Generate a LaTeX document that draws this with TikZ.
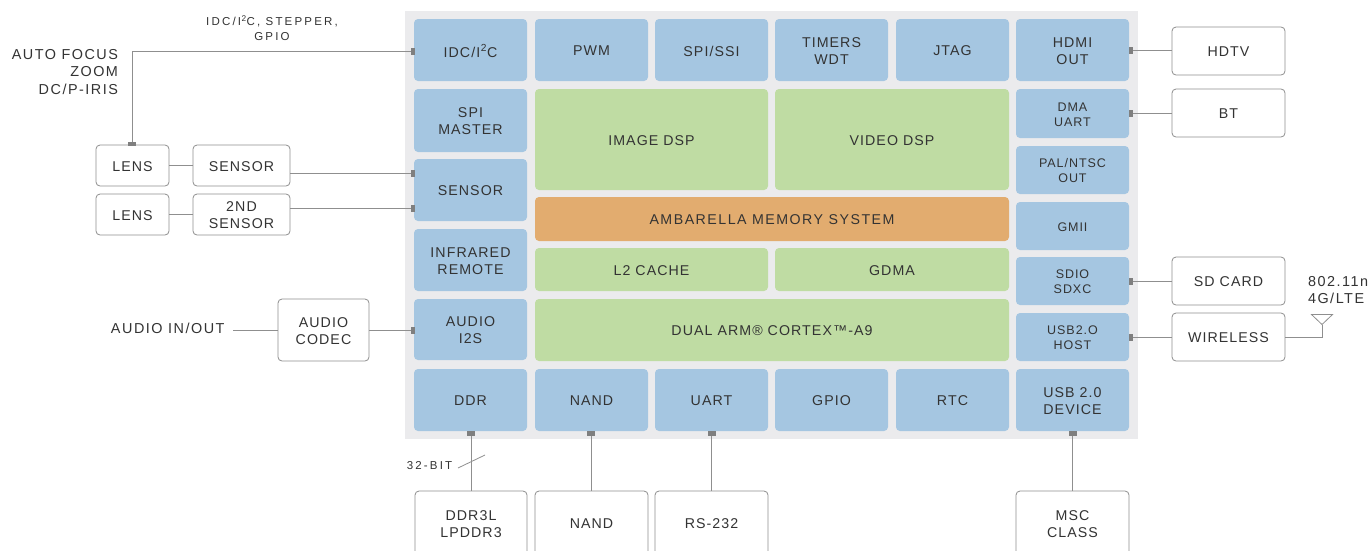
\documentclass[tikz,border=0pt]{standalone}
\usepackage{fontspec}
\setmainfont{Liberation Sans}[LetterSpace=7.5]
\newfontfamily\widefont{Liberation Sans}[LetterSpace=10.5]
\newfontfamily\widerfont{Liberation Sans}[LetterSpace=19]
\definecolor{txt}{HTML}{333333}
\definecolor{bgg}{HTML}{EBEBED}
\definecolor{blu}{HTML}{A5C6E1}
\definecolor{grn}{HTML}{BFDCA3}
\definecolor{org}{HTML}{E2AC6F}
\definecolor{lin}{HTML}{8F8F8F}
\definecolor{prt}{HTML}{7F7F7F}
\newcommand\smf{\fontsize{12.5}{15}\selectfont}
\newcommand\suptwo{\kern0.04em\raisebox{0.38em}{\scalebox{0.72}{2}}\kern0.04em}
\newcommand\bx[7]{%
  \pgfmathsetmacro\bw{#4-#2}\pgfmathsetmacro\bh{#5-#3}%
  \pgfmathsetmacro\cx{(#2+#4)/2}\pgfmathsetmacro\cy{(#3+#5)/2}%
  \node[#6,minimum width=\bw pt,minimum height=\bh pt] (#1) at (\cx,\cy) {};
  \node[yshift=-1pt] (#1t) at (#1.center) {#7};}
\begin{document}
\begin{tikzpicture}[x=1pt,y=-1pt,
  every node/.style={font=\fontsize{14.2}{17.2}\selectfont,text=txt,align=center,inner sep=0pt,outer sep=0pt},
  blk/.style={rectangle,rounded corners=4pt},
  bluebox/.style={blk,fill=blu},
  greenbox/.style={blk,fill=grn},
  orangebox/.style={blk,fill=org},
  whitebox/.style={blk,draw=lin,line width=0.8pt,fill=white},
  port/.style={rectangle,fill=prt,minimum width=4pt,minimum height=7pt},
  portv/.style={rectangle,fill=prt,minimum width=8pt,minimum height=4.5pt},
  wire/.style={draw=lin,line width=1pt},
  small/.style={font=\widerfont\fontsize{11.5}{14.2}\selectfont},
  label/.style={font=\widefont\fontsize{14.4}{17.6}\selectfont}]
\clip (0,0) rectangle (1371,550);
\fill[white] (0,0) rectangle (1371,550);
\bx{chip}{405}{11}{1138}{439}{rectangle,fill=bgg}{}
% left column
\bx{idc}{414}{19}{527}{81}{bluebox}{IDC/I\suptwo C}
\bx{spi}{414}{89}{527}{152}{bluebox}{SPI\\MASTER}
\bx{sens}{414}{159}{527}{221}{bluebox}{SENSOR}
\bx{ir}{414}{229}{527}{291}{bluebox}{INFRARED\\REMOTE}
\bx{aud}{414}{299}{527}{360}{bluebox}{AUDIO\\I2S}
\bx{ddr}{414}{369}{527}{431}{bluebox}{DDR}
% top row
\bx{pwm}{535}{19}{648}{81}{bluebox}{PWM}
\bx{ssi}{655}{19}{768}{81}{bluebox}{SPI/SSI}
\bx{tim}{775}{19}{888}{81}{bluebox}{TIMERS\\WDT}
\bx{jtag}{896}{19}{1009}{81}{bluebox}{JTAG}
% centre
\bx{img}{535}{89}{768}{190}{greenbox}{IMAGE DSP}
\bx{vid}{775}{89}{1009}{190}{greenbox}{VIDEO DSP}
\bx{mem}{535}{197}{1009}{241}{orangebox}{\widefont AMBARELLA MEMORY SYSTEM}
\bx{ltwo}{535}{248}{768}{291}{greenbox}{L2 CACHE}
\bx{gdma}{775}{248}{1009}{291}{greenbox}{GDMA}
\bx{arm}{535}{299}{1009}{361}{greenbox}{DUAL ARM® CORTEX™-A9}
% bottom row
\bx{nandi}{535}{369}{648}{431}{bluebox}{NAND}
\bx{uart}{655}{369}{768}{431}{bluebox}{UART}
\bx{gpio}{775}{369}{888}{431}{bluebox}{GPIO}
\bx{rtc}{896}{369}{1009}{431}{bluebox}{RTC}
% right column
\bx{hdmi}{1016}{19}{1129}{81}{bluebox}{HDMI\\OUT}
\bx{dma}{1016}{89}{1129}{138}{bluebox}{\smf DMA\\[-2.2pt]\smf UART}
\bx{pal}{1016}{146}{1129}{194}{bluebox}{\smf PAL/NTSC\\[-2.2pt]\smf OUT}
\bx{gmii}{1016}{202}{1129}{250}{bluebox}{\smf GMII}
\bx{sdio}{1016}{257}{1129}{305}{bluebox}{\smf SDIO\\[-2.2pt]\smf SDXC}
\bx{host}{1016}{313}{1129}{361}{bluebox}{\smf USB2.O\\[-2.2pt]\smf HOST}
\bx{dev}{1016}{369}{1129}{431}{bluebox}{USB 2.0\\DEVICE}
% external boxes
\bx{hdtv}{1172}{27}{1285}{75}{whitebox}{HDTV}
\bx{bt}{1172}{89}{1285}{137}{whitebox}{BT}
\bx{sd}{1172}{257}{1285}{305}{whitebox}{SD CARD}
\bx{wl}{1172}{313}{1285}{361}{whitebox}{WIRELESS}
\bx{lensa}{96}{145}{169}{186}{whitebox}{LENS}
\bx{sensa}{193}{145}{290}{186}{whitebox}{SENSOR}
\bx{lensb}{96}{194}{169}{235}{whitebox}{LENS}
\bx{sensb}{193}{194}{290}{235}{whitebox}{2ND\\SENSOR}
\bx{codec}{278}{299}{369}{361}{whitebox}{AUDIO\\CODEC}
\bx{ddrx}{415}{491}{527}{556}{whitebox}{}
\bx{nandx}{535}{491}{648}{556}{whitebox}{}
\bx{rsx}{655}{491}{768}{556}{whitebox}{}
\bx{mscx}{1016}{491}{1129}{556}{whitebox}{}
\node (tddr) at (471,524) {DDR3L\\LPDDR3};
\node (tnand) at (591.5,524) {NAND};
\node (trs) at (711.5,524) {RS-232};
\node (tmsc) at (1072.5,524) {MSC\\CLASS};
% ports
\node[port] (pidc) at (413,51) {};
\node[port] (psa) at (413,173) {};
\node[port] (psb) at (413,208) {};
\node[port] (paud) at (413,330) {};
\node[port] (phdmi) at (1131,50) {};
\node[port] (pdma) at (1131,113) {};
\node[port] (psd) at (1131,281) {};
\node[port] (pusb) at (1131,337) {};
\node[portv] (pddr) at (471,433.5) {};
\node[portv] (pnand) at (591,433.5) {};
\node[portv] (puart) at (711.5,433.5) {};
\node[portv] (pdev) at (1072.5,433.5) {};
\node[portv,minimum height=3.5pt] (plens) at (132,144) {};
% connectors
\draw[wire] (pidc) -| (plens);
\draw[wire] (lensa.east) -- (sensa.west);
\draw[wire] (lensb.east) -- (sensb.west);
\draw[wire] (sensa.east |- psa) -- (psa);
\draw[wire] (sensb.east |- psb) -- (psb);
\draw[wire] (codec.east |- paud) -- (paud);
\coordinate (audfree) at (233,330);
\draw[wire] (audfree) -- (codec.west |- audfree);
\draw[wire] (phdmi) -- (hdtv.west |- phdmi);
\draw[wire] (pdma) -- (bt.west |- pdma);
\draw[wire] (psd) -- (sd.west |- psd);
\draw[wire] (pusb) -- (wl.west |- pusb);
\draw[wire] (pddr) -- (ddrx.north -| pddr);
\draw[wire] (pnand) -- (nandx.north -| pnand);
\draw[wire] (puart) -- (rsx.north -| puart);
\draw[wire] (pdev) -- (mscx.north -| pdev);
% antenna
\coordinate (anttip) at (1322,324.5);
\draw[wire,line width=0.8pt] (wl.east |- 0,337) -| (anttip);
\draw[wire,line width=0.8pt,line join=miter] (anttip) -- (1311.5,314.5) -- (1332.5,314.5) -- cycle;
% bus mark
\coordinate (busa) at (458,468);
\coordinate (busb) at (485,455);
\draw[wire,line width=0.8pt] (busa) -- (busb);
% free labels
\node[small] (lbit) at (429.5,466) {32-BIT};
\node[small] (ltop) at (272,28) {IDC/I\suptwo C, STEPPER,\\GPIO};
\node[label,align=right,anchor=east] (laf) at (118,72) {AUTO FOCUS\\ZOOM\\DC/P-IRIS};
\node[label,anchor=east] (lio) at (224.5,328) {AUDIO IN/OUT};
\node[label,align=left,anchor=west] (lwl) at (1308,290) {802.11n\\4G/LTE};
\end{tikzpicture}
\end{document}
